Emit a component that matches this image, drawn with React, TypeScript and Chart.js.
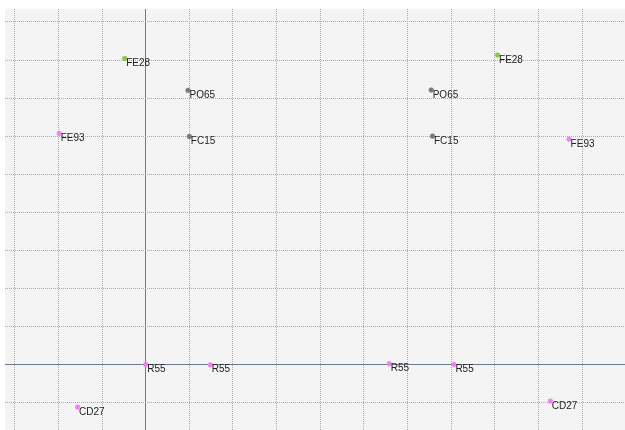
import React, { useEffect, useRef } from "react";
import { Chart, registerables } from "chart.js";

Chart.register(...registerables);

const pointLabels = ["FE28", "PO65", "FE93", "FC15", "R55", "R55", "CD27", "FE28", "PO65", "FC15", "FE93", "R55", "R55", "CD27"];
const xValues = [-0.48, 0.97, -1.98, 1.0, 0.0, 1.48, -1.56, 8.06, 6.54, 6.57, 9.7, 5.58, 7.06, 9.27];
const yValues = [8.04, 7.2, 6.07, 5.99, 0.0, -0.01, -1.12, 8.13, 7.21, 6.0, 5.92, 0.02, 0.0, -0.96];
const pointColors = ["#8cc63f", "#7a7a7a", "#ee82ee", "#7a7a7a", "#ee82ee", "#ee82ee", "#ee82ee", "#8cc63f", "#7a7a7a", "#7a7a7a", "#ee82ee", "#ee82ee", "#ee82ee", "#ee82ee"];

const xRange = [-3.223, 10.98];
const yRange = [-1.721, 9.34];

const bgPlugin = {
  id: "bgFill",
  beforeDraw(chart: any) {
    const { ctx, chartArea } = chart;
    ctx.save();
    ctx.fillStyle = "#f4f4f4";
    ctx.fillRect(chartArea.left, chartArea.top, chartArea.right - chartArea.left, chartArea.bottom - chartArea.top);
    ctx.restore();
  },
};

const labelPlugin = {
  id: "pointLabelText",
  afterDatasetsDraw(chart: any) {
    const { ctx } = chart;
    const meta = chart.getDatasetMeta(0);
    ctx.save();
    ctx.font = "10px 'Liberation Sans', Arial, sans-serif";
    ctx.fillStyle = "#222222";
    ctx.textBaseline = "alphabetic";
    ctx.textAlign = "left";
    meta.data.forEach((el: any, i: number) => {
      ctx.fillText(pointLabels[i], el.x + 1.5, el.y + 7.5);
    });
    ctx.restore();
  },
};

export default function App() {
  const canvasRef = useRef<HTMLCanvasElement | null>(null);

  useEffect(() => {
    if (!canvasRef.current) return;
    const gridColor = (c: any) => (c.tick && c.tick.value === 0 ? "#6f7a8a" : "#a3adbc");
    const gridDash = (c: any) => (c.tick && c.tick.value === 0 ? [] : [1, 1]);
    const chart = new Chart(canvasRef.current, {
      type: "scatter",
      data: {
        datasets: [
          {
            data: xValues.map((x, i) => ({ x, y: yValues[i] })),
            pointBackgroundColor: pointColors,
            pointBorderColor: pointColors,
            pointRadius: 2.4,
            pointBorderWidth: 0.5,
          },
        ],
      },
      options: {
        animation: false,
        responsive: false,
        maintainAspectRatio: false,
        layout: { autoPadding: false, padding: { left: 5, top: 9, right: 0, bottom: 0 } },
        plugins: { legend: { display: false }, tooltip: { enabled: false }, title: { display: false } },
        scales: {
          x: {
            type: "linear",
            min: xRange[0],
            max: xRange[1],
            ticks: { display: false, stepSize: 1, includeBounds: false },
            grid: { color: gridColor, lineWidth: 1, drawTicks: false },
            border: { display: false, dash: gridDash },
          },
          y: {
            type: "linear",
            min: yRange[0],
            max: yRange[1],
            ticks: { display: false, stepSize: 1, includeBounds: false },
            grid: { color: gridColor, lineWidth: 1, drawTicks: false },
            border: { display: false, dash: gridDash },
          },
        },
      } as any,
      plugins: [bgPlugin, labelPlugin],
    });
    return () => chart.destroy();
  }, []);

  return (
    <div style={{ position: "fixed", left: 0, top: 0, width: 625, height: 430, background: "#ffffff" }}>
      <canvas ref={canvasRef} width={625} height={430} style={{ width: 625, height: 430, display: "block" }} />
    </div>
  );
}
